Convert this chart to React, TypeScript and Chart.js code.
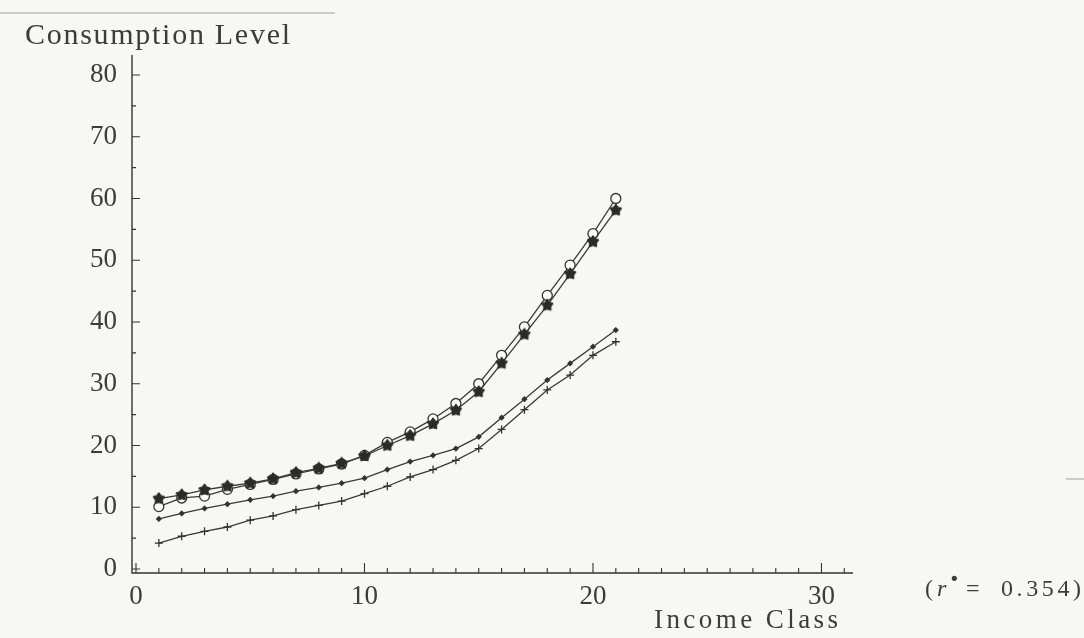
import React, { useEffect, useRef } from 'react';
import { Chart, registerables } from 'chart.js';

Chart.register(...registerables);

const incomeClass = [1, 2, 3, 4, 5, 6, 7, 8, 9, 10, 11, 12, 13, 14, 15, 16, 17, 18, 19, 20, 21];
const openCircleSeries = [10.1, 11.5, 11.8, 12.9, 13.7, 14.5, 15.4, 16.2, 17.0, 18.4, 20.5, 22.2, 24.3, 26.8, 30.0, 34.6, 39.2, 44.3, 49.2, 54.3, 60.0];
const filledStarSeries = [11.4, 12.0, 12.8, 13.4, 13.9, 14.6, 15.6, 16.3, 17.1, 18.3, 20.0, 21.6, 23.5, 25.7, 28.7, 33.3, 38.0, 42.7, 47.8, 53.0, 58.1];
const dotSeries = [8.1, 9.0, 9.8, 10.5, 11.2, 11.8, 12.6, 13.2, 13.9, 14.7, 16.1, 17.4, 18.4, 19.5, 21.4, 24.5, 27.5, 30.6, 33.3, 36.0, 38.7];
const crossSeries = [4.2, 5.3, 6.1, 6.8, 7.9, 8.6, 9.6, 10.3, 11.0, 12.2, 13.4, 14.9, 16.1, 17.6, 19.5, 22.6, 25.8, 29.0, 31.4, 34.6, 36.8];

const xTickLabels = [0, 10, 20, 30];
const yTickLabels = [0, 10, 20, 30, 40, 50, 60, 70, 80];
const xMinorTicks = [0, 1, 2, 3, 4, 5, 6, 7, 8, 9, 10, 11, 12, 13, 14, 15, 16, 17, 18, 19, 20, 21, 22, 23, 24, 25, 26, 27, 28, 29, 30, 31];
const yMinorTicks = [0, 5, 10, 15, 20, 25, 30, 35, 40, 45, 50, 55, 60, 65, 70, 75, 80];

const yTitle = 'Consumption Level';
const xTitle = 'Income Class';
const noteValue = '0.354)';

const INK = '#3c3c3c';
const BG = '#f7f7f5';

function makeStar(size: number, fill: string, stroke: string) {
  const c = document.createElement('canvas');
  c.width = size;
  c.height = size;
  const g = c.getContext('2d')!;
  const cx = size / 2, cy = size / 2, R = size / 2 - 0.8, r = R * 0.62;
  g.beginPath();
  for (let i = 0; i < 10; i++) {
    const ang = -Math.PI / 2 + (i * Math.PI) / 5;
    const rad = i % 2 === 0 ? R : r;
    g.lineTo(cx + rad * Math.cos(ang), cy + rad * Math.sin(ang));
  }
  g.closePath();
  g.fillStyle = fill;
  g.fill();
  g.strokeStyle = stroke;
  g.lineWidth = 1;
  g.stroke();
  return c;
}

function spacedText(ctx: CanvasRenderingContext2D, text: string, x: number, y: number, targetWidth: number) {
  const w = ctx.measureText(text).width;
  const sp = (targetWidth - w) / Math.max(1, text.length - 1);
  let cx = x;
  for (const ch of text) {
    ctx.fillText(ch, cx, y);
    cx += ctx.measureText(ch).width + sp;
  }
}

const decorPlugin = {
  id: 'decor',
  beforeDraw(chart: any) {
    const { ctx, width, height } = chart;
    ctx.save();
    ctx.fillStyle = BG;
    ctx.fillRect(0, 0, width, height);
    ctx.strokeStyle = 'rgba(120,120,120,0.45)';
    ctx.lineWidth = 1.5;
    ctx.beginPath();
    ctx.moveTo(0, 13);
    ctx.lineTo(335, 13);
    ctx.moveTo(1066, 479);
    ctx.lineTo(1084, 479);
    ctx.stroke();
    ctx.restore();
  },
  afterDatasetsDraw(chart: any) {
    const { ctx, chartArea } = chart;
    const xs = chart.scales.x;
    const ys = chart.scales.y;
    ctx.save();
    ctx.strokeStyle = '#333';
    ctx.lineWidth = 1.4;
    ctx.beginPath();
    ctx.moveTo(chartArea.left, chartArea.top);
    ctx.lineTo(chartArea.left, chartArea.bottom);
    ctx.lineTo(chartArea.right, chartArea.bottom);
    ctx.stroke();
    ctx.lineWidth = 1.1;
    ctx.beginPath();
    for (const v of xMinorTicks) {
      const px = xs.getPixelForValue(v);
      const len = v % 10 === 0 ? 10 : 5;
      ctx.moveTo(px, chartArea.bottom);
      ctx.lineTo(px, chartArea.bottom - len);
    }
    for (const v of yMinorTicks) {
      const py = ys.getPixelForValue(v);
      const len = v % 10 === 0 ? 8 : 4;
      ctx.moveTo(chartArea.left, py);
      ctx.lineTo(chartArea.left + len, py);
    }
    ctx.stroke();

    ctx.fillStyle = INK;
    ctx.textBaseline = 'alphabetic';
    ctx.font = '30px "Liberation Serif"';
    spacedText(ctx, yTitle, 25, 44, 265);
    ctx.font = '27px "Liberation Serif"';
    spacedText(ctx, xTitle, 654, 628, 184);

    // (r* = 0.354)
    const base = 596;
    ctx.font = '24px "Liberation Serif"';
    ctx.fillText('(', 925, base);
    ctx.font = 'italic 24px "Liberation Serif"';
    ctx.fillText('r', 937, base);
    ctx.font = '18px "DejaVu Sans"';
    ctx.fillText('\u2022', 949, base - 11);
    ctx.font = '24px "Liberation Serif"';
    spacedText(ctx, '=', 966, base, 20);
    spacedText(ctx, noteValue, 1001, base, 80);
    ctx.restore();
  },
};

export default function App() {
  const canvasRef = useRef<HTMLCanvasElement | null>(null);

  useEffect(() => {
    const canvas = canvasRef.current;
    if (!canvas) return;
    const star = makeStar(14, '#2a2a2a', '#2a2a2a');
    const line = { borderColor: '#3a3a3a', borderWidth: 1.3, tension: 0 };
    const chart = new Chart(canvas, {
      type: 'line',
      data: {
        labels: incomeClass,
        datasets: [
          {
            label: 'cross',
            data: incomeClass.map((x, i) => ({ x, y: crossSeries[i] })),
            ...line,
            pointStyle: 'cross',
            pointRadius: 4,
            pointBorderWidth: 1.3,
            pointBorderColor: '#333',
          },
          {
            label: 'dot',
            data: incomeClass.map((x, i) => ({ x, y: dotSeries[i] })),
            ...line,
            pointStyle: 'rectRot',
            pointRadius: 2.2,
            pointBackgroundColor: '#333',
            pointBorderColor: '#333',
          },
          {
            label: 'filled',
            data: incomeClass.map((x, i) => ({ x, y: filledStarSeries[i] })),
            ...line,
            pointStyle: star as any,
          },
          {
            label: 'open',
            data: incomeClass.map((x, i) => ({ x, y: openCircleSeries[i] })),
            ...line,
            pointStyle: 'circle',
            pointRadius: 5,
            pointBorderWidth: 1.3,
            pointBackgroundColor: '#fbfbfa',
            pointBorderColor: '#333',
          },
        ],
      },
      options: {
        animation: false,
        responsive: false,
        devicePixelRatio: 1,
        layout: { padding: { left: 0, top: 55, right: 231, bottom: 0 } },
        plugins: { legend: { display: false }, tooltip: { enabled: false }, title: { display: false } },
        scales: {
          x: {
            type: 'linear',
            min: -0.175,
            max: 31.38,
            grid: { display: false },
            border: { display: false },
            afterFit: (s: any) => { s.height = 65; },
            afterBuildTicks: (s: any) => { s.ticks = xTickLabels.map((v) => ({ value: v })); },
            ticks: {
              autoSkip: false,
              maxRotation: 0,
              padding: 0,
              color: INK,
              font: { family: '"Liberation Serif"', size: 27 },
            },
          },
          y: {
            type: 'linear',
            min: -0.65,
            max: 83.24,
            grid: { display: false },
            border: { display: false },
            afterFit: (s: any) => { s.width = 132; },
            afterBuildTicks: (s: any) => { s.ticks = yTickLabels.map((v) => ({ value: v })); },
            ticks: {
              autoSkip: false,
              padding: 7,
              color: INK,
              font: { family: '"Liberation Serif"', size: 27 },
            },
          },
        },
      },
      plugins: [decorPlugin],
    });
    return () => chart.destroy();
  }, []);

  return (
    <div style={{ position: 'fixed', left: 0, top: 0, width: 1084, height: 638, background: BG }}>
      <canvas ref={canvasRef} width={1084} height={638} style={{ display: 'block' }} />
    </div>
  );
}
